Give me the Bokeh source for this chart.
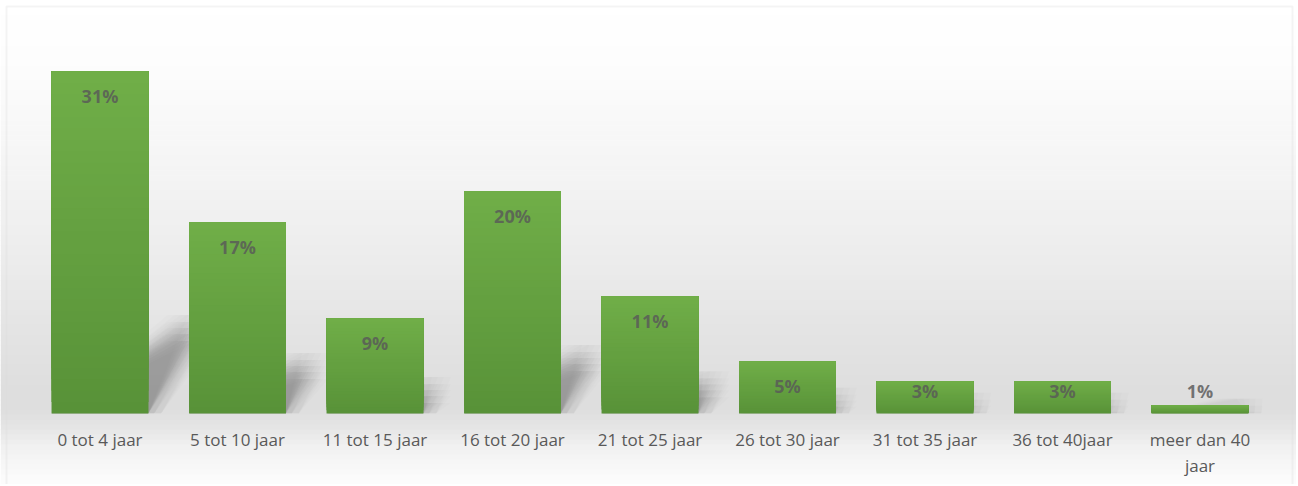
import numpy as np
from bokeh.plotting import figure
from bokeh.models import Range1d, FixedTicker, BoxAnnotation, ColumnDataSource
from bokeh.core.properties import value
from bokeh.embed import file_html
from bokeh.resources import INLINE

# ---------------- data ----------------
categories = ["0 tot 4 jaar", "5 tot 10 jaar", "11 tot 15 jaar", "16 tot 20 jaar",
              "21 tot 25 jaar", "26 tot 30 jaar", "31 tot 35 jaar", "36 tot 40jaar",
              "meer dan 40 jaar"]
values = [30.95, 17.3, 8.6, 20.1, 10.6, 4.7, 2.9, 2.9, 0.72]
value_labels = ["31%", "17%", "9%", "20%", "11%", "5%", "3%", "3%", "1%"]
tick_labels = ["0 tot 4 jaar", "5 tot 10 jaar", "11 tot 15 jaar", "16 tot 20 jaar",
               "21 tot 25 jaar", "26 tot 30 jaar", "31 tot 35 jaar", "36 tot 40jaar",
               "meer dan 40\njaar"]

# ---------------- layout ----------------
W, H = 1296, 484
BASE = 413                        # canvas y of the bar baseline
PPU = 11.05                       # pixels per percentage point
PPC = 137.5                       # pixels per category
X0 = 99.5                         # canvas x of first category centre
n = len(categories)
bar_w = 0.705

p = figure(width=W, height=H,
           x_range=Range1d(-X0 / PPC, (W - X0) / PPC),
           y_range=Range1d(-(H - BASE) / PPU, BASE / PPU),
           output_backend="svg", toolbar_location=None,
           min_border=0, min_border_left=0, min_border_right=0,
           min_border_top=0, min_border_bottom=0,
           background_fill_color="white", border_fill_color="white")
p.outline_line_color = None
p.grid.visible = False
p.yaxis.visible = False

# ---------------- background gradient ----------------
stops_y = [0, 60, 150, 250, 330, 390, 410, 425, 445, 484]
stops_c = [255, 253, 246, 237, 228, 222, 222, 228, 240, 253]
NS = 97
edges = np.linspace(0, H, NS + 1)
for k in range(NS):
    yc = 0.5 * (edges[k] + edges[k + 1])
    g = int(round(np.interp(yc, stops_y, stops_c)))
    col = "#%02x%02x%02x" % (g, g, g)
    p.add_layout(BoxAnnotation(left=0, right=W, top=edges[k], bottom=edges[k + 1] + 0.6,
                               left_units="canvas", right_units="canvas",
                               top_units="canvas", bottom_units="canvas",
                               fill_color=col, fill_alpha=1.0, line_alpha=0,
                               level="image", editable=False))

# ---------------- soft perspective shadows (converging up-right) ----------------
bw_px = bar_w * PPC
for ox in (-13, -6, 0, 6, 13):
    for oy in (-13, -6, 0, 6, 13):
        xs, ys = [], []
        for i, v in enumerate(values):
            hs_px = 0.25 * v * PPU
            top_px = max(hs_px + oy, 0)
            x0, x1 = i - bar_w / 2, i + bar_w / 2
            tr = x1 + (0.62 * hs_px + ox) / PPC
            tl = tr - 0.22 * bw_px / PPC
            xs.append([x0, x1 + max(ox, 0) / PPC, tr, tl])
            ys.append([0, 0, top_px / PPU, top_px / PPU])
        p.patches(xs, ys, fill_color="black", fill_alpha=0.0105, line_alpha=0)

# ---------------- bars with vertical gradient ----------------
top_rgb = np.array([112, 174, 72])
bot_rgb = np.array([88, 146, 56])
NSL = 30
for s in range(NSL):
    t = (s + 0.5) / NSL
    rgb = bot_rgb + (top_rgb - bot_rgb) * t
    col = "#%02x%02x%02x" % tuple(int(round(c)) for c in rgb)
    bottoms = [v * s / NSL for v in values]
    p.vbar(x=list(range(n)), bottom=bottoms, top=values, width=bar_w,
           fill_color=col, line_alpha=0)

# ---------------- value labels ----------------
label_y = [max(v - 24.5 / PPU, 22.5 / PPU) for v in values]
src = ColumnDataSource(dict(x=list(range(n)), y=label_y, t=value_labels))
p.text(x="x", y="y", text="t", source=src, text_align="center", text_baseline="middle",
       text_font=value("Open Sans"), text_font_style="bold", text_font_size="18px",
       text_color="#595959", text_alpha=0.82)

# ---------------- x axis (drawn at the baseline) ----------------
ax = p.xaxis[0]
ax.fixed_location = 0
ax.ticker = FixedTicker(ticks=list(range(n)))
ax.major_label_overrides = {i: tick_labels[i] for i in range(n)}
ax.axis_line_color = None
ax.major_tick_line_color = None
ax.minor_tick_line_color = None
ax.major_label_standoff = 8
ax.major_label_text_font = "Open Sans"
ax.major_label_text_font_size = "17px"
ax.major_label_text_color = "#595959"
ax.major_label_text_line_height = 1.15

# ---------------- outer border ----------------
p.add_layout(BoxAnnotation(left=6, right=1292, top=6, bottom=H + 20,
                           left_units="canvas", right_units="canvas",
                           top_units="canvas", bottom_units="canvas",
                           fill_alpha=0, line_color="#d9d9d9", line_width=2,
                           level="overlay", editable=False))

open("out.html", "w").write(file_html(p, INLINE))
